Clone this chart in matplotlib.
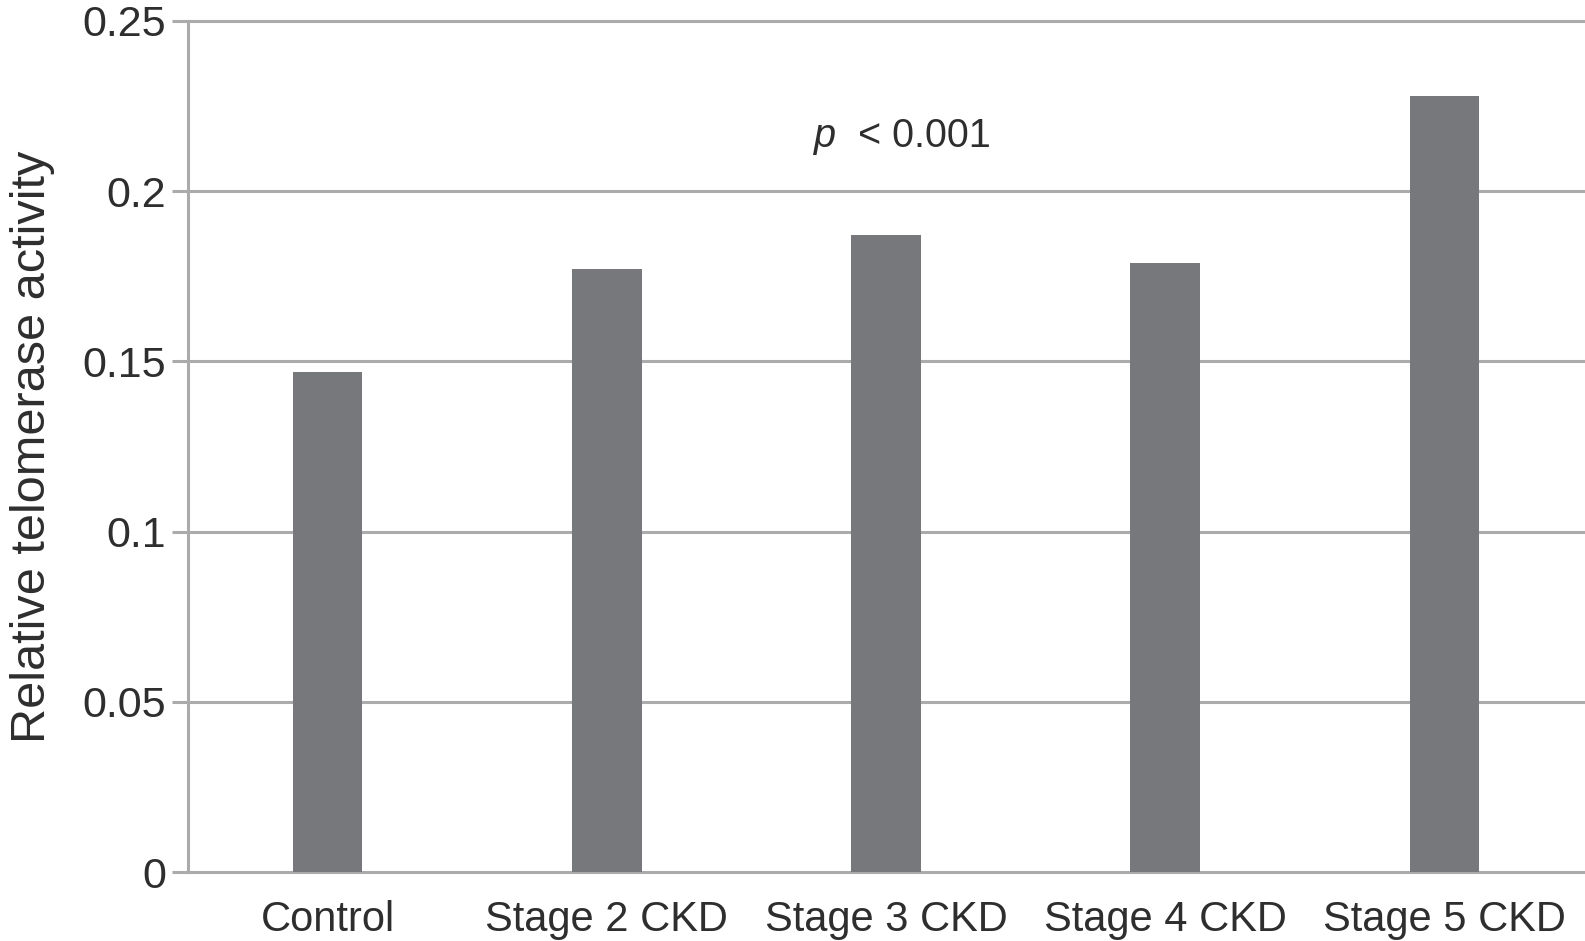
import matplotlib
matplotlib.use("Agg")
import matplotlib.pyplot as plt

categories = ["Control", "Stage 2 CKD", "Stage 3 CKD", "Stage 4 CKD", "Stage 5 CKD"]
values = [0.147, 0.177, 0.187, 0.179, 0.228]
yticks = [0, 0.05, 0.1, 0.15, 0.2, 0.25]
ytick_labels = ["0", "0.05", "0.1", "0.15", "0.2", "0.25"]

plt.rcParams['font.family'] = ['Liberation Sans', 'DejaVu Sans']

fig = plt.figure(figsize=(15.85, 9.41), dpi=100)
ax = fig.add_axes([0.1186, 0.0733, 0.8808, 0.9044])

grid_c = "#ababab"
text_c = "#2e2e2e"
ax.bar(range(len(categories)), values, width=0.25, color="#77787c", zorder=3)
ax.set_xlim(-0.5, len(categories) - 0.5)
ax.set_ylim(0, 0.25)
ax.set_yticks(yticks)
ax.set_yticklabels(ytick_labels)
ax.set_xticks(range(len(categories)))
ax.set_xticklabels(categories)
for y in yticks:
    ax.axhline(y, color=grid_c, lw=2.2, zorder=1, clip_on=False)

for s in ["top", "right", "bottom"]:
    ax.spines[s].set_visible(False)
ax.spines["left"].set_color(grid_c)
ax.spines["left"].set_linewidth(2.2)
ax.tick_params(axis="y", length=11.5, width=2.2, color=grid_c, labelsize=31,
               labelcolor=text_c, pad=4)
ax.tick_params(axis="x", length=0, labelsize=30, labelcolor=text_c, pad=20)
ax.set_ylabel("Relative telomerase activity", fontsize=35, color=text_c, labelpad=20)

ax.text(1.82, 0.2162, "p", fontsize=28.5, color=text_c, ha="right", va="center",
        style="italic")
ax.text(1.82, 0.2162, "  < 0.001", fontsize=28.5, color=text_c,
        ha="left", va="center")

fig.savefig("out.png", dpi=100)
